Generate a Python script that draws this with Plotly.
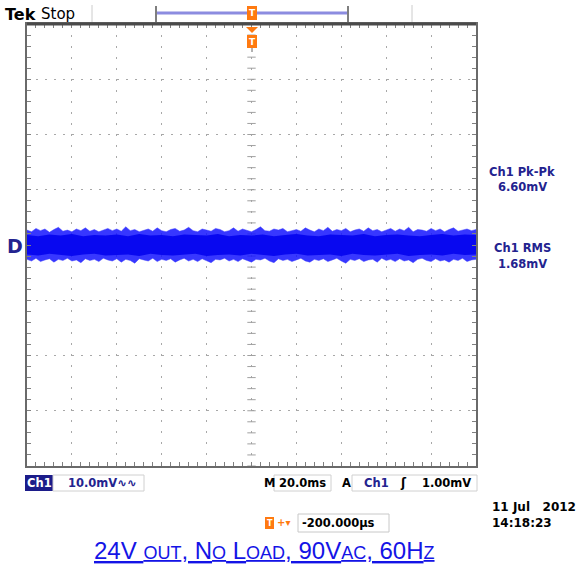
import numpy as np
import plotly.graph_objects as go

W, H = 582, 569

# ---- data (mV, 20 ms/div, 10 mV/div) ----
upper_mv = [2.7,2.4,3.0,2.6,2.9,2.3,2.8,3.2,2.5,2.7,
            2.4,2.9,2.6,3.1,2.5,2.8,2.4,2.7,3.0,2.6,
            2.9,2.5,3.3,2.6,2.8,2.4,2.7,2.9,2.5,3.1,
            2.6,2.4,2.8,3.0,2.5,2.7,3.2,2.6,2.4,2.9,
            2.7,2.5,3.0,2.8,2.4,2.6,3.1,2.5,2.9,2.7,
            2.4,2.8,3.3,2.6,2.5,2.9,2.7,3.0,2.4,2.6,
            2.8,2.5,3.1,2.7,2.4,2.9,2.6,3.2,2.5,2.8,
            2.6,3.0,2.4,2.7,2.9,2.5,3.1,2.6,2.8,2.4,
            2.7,3.0,2.5,2.9,2.6,3.2,2.4,2.8,2.7,2.5,
            3.0,2.6,2.9,2.4,2.8,3.1,2.5,2.7,2.9,2.6,2.8]
lower_mv = [-2.6,-2.9,-2.4,-3.0,-2.7,-2.5,-3.1,-2.6,-2.8,-2.4,
            -2.9,-2.7,-3.2,-2.5,-2.8,-2.6,-3.0,-2.4,-2.7,-2.9,
            -2.5,-3.1,-2.6,-2.8,-3.3,-2.5,-2.7,-2.9,-2.4,-3.0,
            -2.6,-2.8,-2.5,-3.1,-2.7,-2.4,-2.9,-2.6,-3.0,-2.5,
            -2.8,-3.2,-2.6,-2.7,-2.4,-2.9,-2.6,-3.0,-2.5,-2.8,
            -3.1,-2.6,-2.7,-2.4,-2.9,-3.2,-2.5,-2.8,-2.6,-3.0,
            -2.7,-2.4,-2.9,-3.1,-2.6,-2.8,-2.5,-3.0,-2.7,-2.4,
            -2.9,-3.3,-2.6,-2.8,-2.5,-3.0,-2.7,-2.6,-3.1,-2.4,
            -2.8,-2.6,-3.0,-2.5,-2.9,-2.7,-3.2,-2.6,-2.4,-2.8,
            -3.0,-2.5,-2.9,-2.7,-3.1,-2.6,-2.8,-2.4,-3.0,-2.7,-2.6]
core_upper = [1.8,1.6,1.9,1.7,2.0,1.6,1.8,1.7,1.9,1.6,2.0,1.7,1.8,1.6,1.9,1.8,1.7,2.0,1.6,1.8,
              1.7,1.9,1.6,1.8,2.0,1.7,1.6,1.9,1.8,1.7,2.0,1.6,1.8,1.9,1.7,1.6,1.8,2.0,1.7,1.9,1.8]
core_lower = [-1.7,-1.9,-1.6,-1.8,-2.0,-1.7,-1.6,-1.9,-1.8,-1.7,-2.0,-1.6,-1.8,-1.9,-1.7,-1.6,-2.0,-1.8,-1.7,-1.9,
              -1.6,-1.8,-2.0,-1.7,-1.6,-1.9,-1.8,-1.7,-2.0,-1.6,-1.8,-1.9,-1.7,-1.6,-2.0,-1.8,-1.7,-1.9,-1.6,-1.8,-1.7]

meas_labels = ["Ch1 Pk-Pk", "6.60mV", "Ch1 RMS", "1.68mV"]

x_out = np.linspace(-100, 100, len(upper_mv))
x_core = np.linspace(-100, 100, len(core_upper))

fig = go.Figure()

# center-line graticule ticks (drawn beneath the trace)
cy = np.arange(-40, 40.01, 2)
cx = np.arange(-100, 100.01, 4)
fig.add_trace(go.Scatter(x=[0]*len(cy), y=cy, mode="markers",
                         marker=dict(symbol="line-ew", size=6, line=dict(width=1, color="#a0a0a0")),
                         hoverinfo="skip", showlegend=False))
fig.add_trace(go.Scatter(x=cx, y=[0]*len(cx), mode="markers",
                         marker=dict(symbol="line-ns", size=6, line=dict(width=1, color="#a0a0a0")),
                         hoverinfo="skip", showlegend=False))

fig.add_trace(go.Scatter(x=list(x_out) + list(x_out[::-1]),
                         y=upper_mv + lower_mv[::-1],
                         fill="toself", fillcolor="rgba(20,20,255,0.85)",
                         line=dict(width=0.8, color="rgba(60,60,255,0.6)"),
                         mode="lines", hoverinfo="skip", showlegend=False))
fig.add_trace(go.Scatter(x=list(x_core) + list(x_core[::-1]),
                         y=core_upper + core_lower[::-1],
                         fill="toself", fillcolor="#0808f0",
                         line=dict(width=0), mode="lines",
                         hoverinfo="skip", showlegend=False))

L, R, T, B = 27, 476, 24, 466
def px(x): return x / W
def py(y): return 1 - y / H

axis_common = dict(showticklabels=False, showline=True, linecolor="#6a6a6a", linewidth=2,
                   mirror="allticks", ticks="inside", ticklen=4, tickcolor="#808080",
                   gridcolor="#a8a8a8", gridwidth=1, zeroline=False, fixedrange=True)
fig.update_layout(
    width=W, height=H, margin=dict(l=0, r=0, t=0, b=0),
    paper_bgcolor="white", plot_bgcolor="white",
    xaxis=dict(range=[-100, 100], dtick=20, domain=[px(L), px(R)], griddash="2px,9px",
               minor=dict(dtick=4, ticks="inside", ticklen=4, tickcolor="#808080", showgrid=False),
               **axis_common),
    yaxis=dict(range=[-40, 40], dtick=10, domain=[py(B), py(T)], griddash="2px,7px",
               minor=dict(dtick=2, ticks="inside", ticklen=4, tickcolor="#808080", showgrid=False),
               **axis_common),
    font=dict(family="DejaVu Sans", color="black"),
)

shapes = []
def line(x0, y0, x1, y1, color, width):
    shapes.append(dict(type="line", xref="paper", yref="paper", x0=px(x0), y0=py(y0),
                       x1=px(x1), y1=py(y1), line=dict(color=color, width=width)))
def rect(x0, y0, x1, y1, fill, lc=None, lw=0):
    shapes.append(dict(type="rect", xref="paper", yref="paper", x0=px(x0), y0=py(y0),
                       x1=px(x1), y1=py(y1), fillcolor=fill,
                       line=dict(color=lc or fill, width=lw)))

# top border emphasis
line(L, T, R, T, "#4a4a4a", 3)
# top status bar
line(92, 5, 92, 22, "#cccccc", 1)
line(412, 5, 412, 22, "#cccccc", 1)
line(157, 13, 347, 13, "#8c8ce0", 3)
line(156, 6, 156, 22, "#555555", 1.5)
line(348, 6, 348, 22, "#555555", 1.5)
# trigger markers (orange)
ORG = "#ff7a10"
rect(247, 6, 257, 20, ORG)
rect(247, 35, 257, 48, ORG)
shapes.append(dict(type="path", xref="paper", yref="paper",
                   path=f"M {px(246)},{py(27)} L {px(258)},{py(27)} L {px(252)},{py(33)} Z",
                   fillcolor=ORG, line=dict(width=0)))
line(252, 48, 252, 52, "#666666", 1)
# bottom readout boxes
rect(25, 475, 53, 491, "#1c1c8a")
rect(53, 475, 144, 491, "rgba(0,0,0,0)", "#d0d0d0", 1)
rect(274, 475, 331, 491, "rgba(0,0,0,0)", "#d0d0d0", 1)
rect(352, 475, 477, 491, "rgba(0,0,0,0)", "#d0d0d0", 1)
rect(298, 514, 389, 532, "rgba(0,0,0,0)", "#c8c8c8", 1)
rect(265, 517, 274, 529, ORG)
fig.update_layout(shapes=shapes)

ann = []
def text(x, y, s, size=11, color="black", anchor="left", family="DejaVu Sans", bold=True):
    ann.append(dict(xref="paper", yref="paper", x=px(x), y=py(y), text=(f"<b>{s}</b>" if bold else s),
                    showarrow=False, xanchor=anchor, yanchor="middle",
                    font=dict(size=size, color=color, family=family)))

NAVY = "#23238f"
text(3, 14, "Tek", size=16)
text(39, 14, "Stop", size=15, bold=False)
text(252, 13.5, "T", size=9, color="white", anchor="center")
text(252, 42, "T", size=9, color="white", anchor="center")
text(270, 523.5, "T", size=8, color="white", anchor="center")
text(275, 522, "+▾", size=10, color=ORG)
text(15, 246, "D", size=19, color=NAVY, anchor="center")

text(522, 172, meas_labels[0], size=11.5, color=NAVY, anchor="center")
text(522, 187, meas_labels[1], size=11.5, color=NAVY, anchor="center")
text(522, 248, meas_labels[2], size=11.5, color=NAVY, anchor="center")
text(522, 264, meas_labels[3], size=11.5, color=NAVY, anchor="center")

text(39, 483, "Ch1", size=11.5, color="white", anchor="center")
text(66, 483, "10.0mV∿∿", size=11.5, color=NAVY)
text(262, 483, "M", size=11.5)
text(277, 483, "20.0ms", size=11.5)
text(340, 483, "A", size=11.5)
text(362, 483, "Ch1", size=11.5, color=NAVY)
text(398, 483, "ʃ", size=12)
text(420, 483, "1.00mV", size=11.5)
text(300, 523, "-200.000µs", size=11.5)
text(490, 507, "11 Jul   2012", size=12)
text(490, 523, "14:18:23", size=12)

S = "font-size:18px"
cap = (f"<u>24V <span style='{S}'>OUT</span>, N<span style='{S}'>O</span> "
       f"L<span style='{S}'>OAD</span>, 90V<span style='{S}'>AC</span>, "
       f"60H<span style='{S}'>Z</span></u>")
ann.append(dict(xref="paper", yref="paper", x=px(264), y=py(550), text=cap, showarrow=False,
                xanchor="center", yanchor="middle",
                font=dict(size=24, color="#1414e6", family="Liberation Sans")))
fig.update_layout(annotations=ann)

fig.write_html("out.html")
